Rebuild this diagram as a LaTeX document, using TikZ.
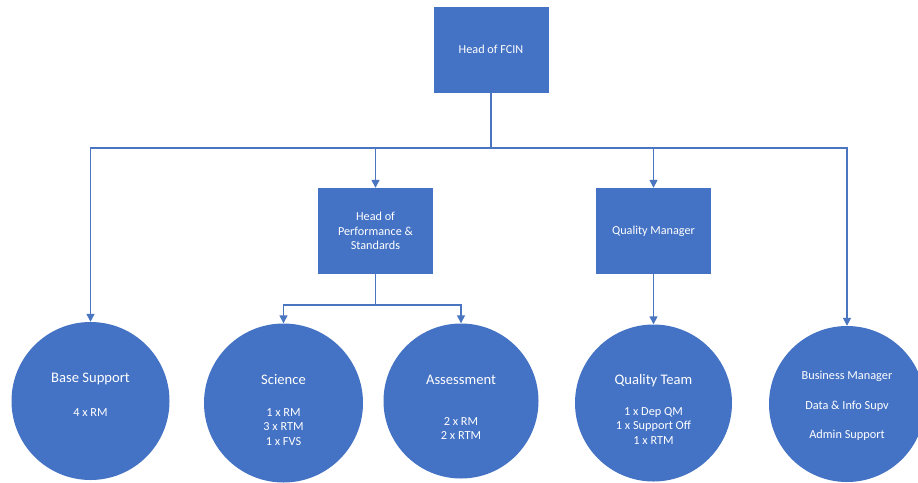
\documentclass[tikz,border=0pt]{standalone}
\usepackage{fontspec}
\setmainfont{Carlito}
\usetikzlibrary{arrows.meta}
\definecolor{obox}{HTML}{4472C4}
\definecolor{oline}{HTML}{4A75C0}
\begin{document}
\begin{tikzpicture}[x=1pt,y=-1pt,
  rolebox/.style={draw=none,fill=obox,minimum width=115pt,minimum height=86pt,inner sep=0pt,text=white,align=center,font=\fontsize{12.2}{14.6}\selectfont},
  unit/.style={circle,fill=obox,draw=none,inner sep=0pt},
  title/.style={text=white,font=\fontsize{14.6}{18}\selectfont,inner sep=0pt},
  detail/.style={text=white,align=center,font=\fontsize{12.3}{14.2}\selectfont,inner sep=0pt},
  link/.style={draw=oline,line width=1.4pt},
  arr/.style={link,-{Triangle[width=8pt,length=8pt]}}]
\useasboundingbox (0,0) rectangle (918,482);
\fill[white] (0,0) rectangle (918,482);
% boxes
\node[rolebox] (fcin) at (491,49.5) {Head of FCIN};
\node[rolebox] (ps) at (375.5,231) {Head of\\Performance \&\\Standards};
\node[rolebox] (qm) at (653.5,231) {Quality Manager};
% circles
\node[unit,minimum size=158pt] (base) at (90.5,401) {};
\node[unit,minimum size=159pt] (sci) at (283.5,403) {};
\node[unit,minimum size=155pt] (ass) at (461,401) {};
\node[unit,minimum size=157pt] (qt) at (653.5,403) {};
\node[unit,minimum size=156pt] (bm) at (847,404) {};
% texts
\node[title] (t1) at (90.5,379) {Base Support};
\node[detail] (d1) at (90.5,412.5) {4 x RM};
\node[title] (t2) at (283.5,380) {Science};
\node[detail] (d2) at (283.5,427) {1 x RM\\3 x RTM\\1 x FVS};
\node[title] (t3) at (461,380) {Assessment};
\node[detail] (d3) at (461,428.5) {2 x RM\\2 x RTM};
\node[title] (t4) at (653.5,381) {Quality Team};
\node[detail] (d4) at (653.5,426) {1 x Dep QM\\1 x Support Off\\1 x RTM};
\node[detail] (d5a) at (847,376) {Business Manager};
\node[detail] (d5b) at (847,406.5) {Data \& Info Supv};
\node[detail] (d5c) at (847,435.5) {Admin Support};
% connectors
\coordinate (bus) at (491,148);
\coordinate (psbus) at (375.5,305);
\draw[link] (fcin.south) -- (bus);
\draw[arr] (bus) -| (base.north);
\draw[arr] (bus) -| (ps.north);
\draw[arr] (bus) -| (qm.north);
\draw[arr] (bus) -| (bm.north);
\draw[link] (ps.south) -- (psbus);
\draw[arr] (psbus) -| (sci.north);
\draw[arr] (psbus) -| (ass.north);
\draw[arr] (qm.south) -- (qt.north);
\end{tikzpicture}
\end{document}
